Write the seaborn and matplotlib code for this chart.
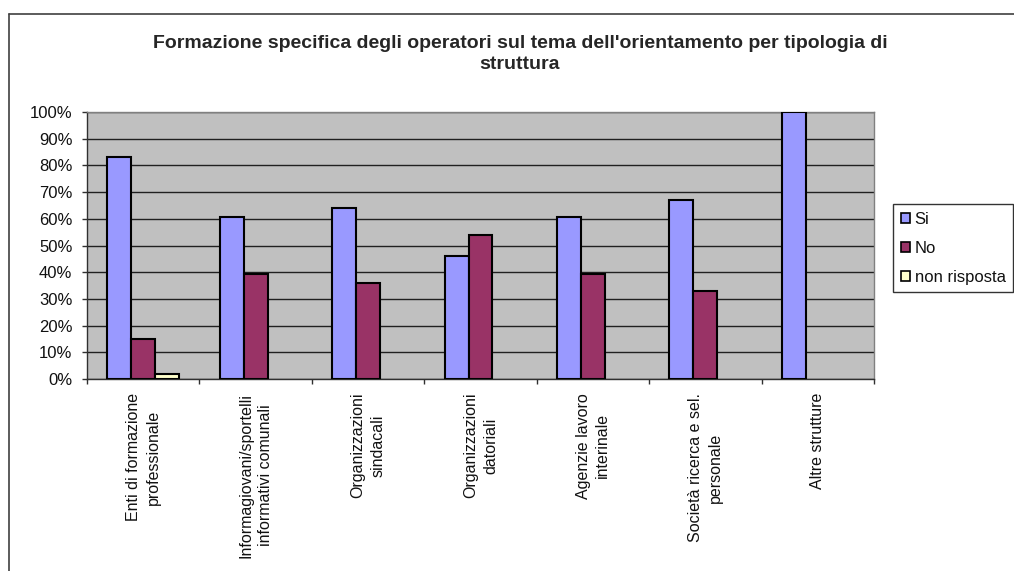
import matplotlib
matplotlib.use("Agg")
import matplotlib.pyplot as plt
import seaborn as sns
import pandas as pd
import numpy as np
from matplotlib.lines import Line2D
from matplotlib.patches import Patch
from matplotlib.ticker import FixedLocator, PercentFormatter

categories = [
    "Enti di formazione\nprofessionale",
    "Informagiovani/sportelli\ninformativi comunali",
    "Organizzazioni\nsindacali",
    "Organizzazioni\ndatoriali",
    "Agenzie lavoro\ninterinale",
    "Società ricerca e sel.\npersonale",
    "Altre strutture",
]
series_names = ["Si", "No", "non risposta"]
si = [83, 60.6, 64, 46, 60.6, 67, 100]
no = [15, 39.4, 36, 54, 39.4, 33, np.nan]
nr = [2, np.nan, np.nan, np.nan, np.nan, np.nan, np.nan]
colors = ["#9999FF", "#993366", "#FFFFCC"]
title = "Formazione specifica degli operatori sul tema dell'orientamento per tipologia di\nstruttura"

rows = []
for i, c in enumerate(categories):
    for s, vals in zip(series_names, [si, no, nr]):
        rows.append({"cat": c, "serie": s, "val": vals[i]})
df = pd.DataFrame(rows)

sns.set_style("white")
plt.rcParams["font.family"] = ["Liberation Sans", "DejaVu Sans"]

W, H = 1014, 571
fig = plt.figure(figsize=(W / 100, H / 100), dpi=100)
ax = fig.add_axes([87 / W, 1 - 379 / H, (874 - 87) / W, (379 - 112) / H])
ax.set_facecolor("#C0C0C0")

sns.barplot(data=df, x="cat", y="val", hue="serie", order=categories,
            hue_order=series_names, palette=colors, width=0.64, dodge=True,
            edgecolor="black", linewidth=1.5, saturation=1, ax=ax, legend=False,
            zorder=3)

ax.set_ylim(0, 100)
ax.set_xlim(-0.5, len(categories) - 0.5)
ax.set_yticks(np.arange(0, 101, 10))
ax.yaxis.set_major_formatter(PercentFormatter(decimals=0))
ax.grid(axis="y", color="#202020", linewidth=1, zorder=1)
ax.set_axisbelow(True)
ax.set_xlabel("")
ax.set_ylabel("")

for sp in ["top", "right"]:
    ax.spines[sp].set_color("#808080")
    ax.spines[sp].set_linewidth(1)
for sp in ["left", "bottom"]:
    ax.spines[sp].set_color("#303030")
    ax.spines[sp].set_linewidth(1)

ax.tick_params(axis="y", which="major", length=3.6, width=1, color="#303030",
               labelsize=12, pad=7, left=True, labelcolor="#111111")
ax.tick_params(axis="x", which="major", length=0, labelsize=11.5, pad=10,
               labelcolor="#111111")
ax.xaxis.set_minor_locator(FixedLocator(np.arange(-0.5, len(categories), 1.0)))
ax.tick_params(axis="x", which="minor", length=3.6, width=1, color="#303030", bottom=True)
for lbl in ax.get_xticklabels():
    lbl.set_rotation(90)
    lbl.set_ha("center")
    lbl.set_va("top")
    lbl.set_multialignment("center")
    lbl.set_linespacing(1.4)

fig.text(520 / W, 1 - 54 / H, title, ha="center", va="center",
         fontsize=14, fontweight="bold", linespacing=1.3)

handles = [Patch(facecolor=c, edgecolor="black", linewidth=1.2) for c in colors]
leg = fig.legend(handles, series_names, loc="upper left",
                 bbox_to_anchor=(893 / W, 1 - 204 / H), frameon=True,
                 fancybox=False, shadow=False, fontsize=12, handlelength=0.55,
                 handleheight=0.55, handletextpad=0.3, labelspacing=0.85,
                 borderpad=0.45, borderaxespad=0)
leg.get_frame().set_edgecolor("black")
leg.get_frame().set_linewidth(1)
for t in leg.get_texts():
    t.set_color("#111111")

# outer chart border (top and left edges visible)
fig.add_artist(Line2D([9 / W, 1.0], [1 - 14 / H, 1 - 14 / H], transform=fig.transFigure,
                      color="#404040", linewidth=1.2))
fig.add_artist(Line2D([9 / W, 9 / W], [0.0, 1 - 14 / H], transform=fig.transFigure,
                      color="#404040", linewidth=1.2))

fig.savefig("out.png", dpi=100)
